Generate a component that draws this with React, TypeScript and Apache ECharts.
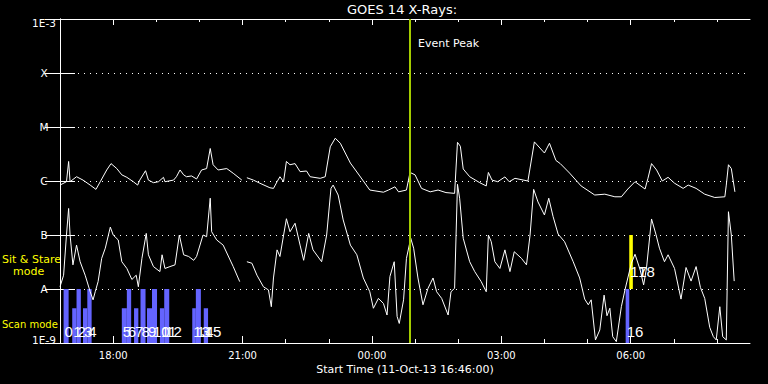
import React, { useEffect, useRef } from "react";
import * as echarts from "echarts";

// ---- axis definitions ----
const START_MIN_OF_DAY = 16 * 60 + 46; // 11-Oct-13 16:46
const SPAN_MIN = 960; // 16 hours shown
const MAJOR_TICKS = [74, 254, 434, 614, 794]; // 18:00, 21:00, 00:00, 03:00, 06:00 (minutes since start)
const MINOR_TICKS = [134, 194, 314, 374, 494, 554, 674, 734, 854, 914];
const Y_LABELS = ["1E-9", "A", "B", "C", "M", "X", "1E-3"];
const EVENT_PEAK = 486; // minutes since start (~00:52)

// ---- long channel (upper curve) [minutes since start, W/m^2] ----
const longFlux: [number, number | string][] = [
  [0, 8.4e-7], [9, 9.7e-7], [12, 2.3e-6], [14, 9.7e-7], [23, 1.2e-6], [32, 1.04e-6], [42, 8.4e-7],
  [50, 7.0e-7], [56, 9.7e-7], [65, 1.6e-6], [71, 2.1e-6], [79, 1.7e-6], [86, 1.3e-6], [93, 1.17e-6],
  [102, 9.7e-7], [108, 8.4e-7], [111, 1.04e-6], [119, 1.55e-6], [123, 1.04e-6], [130, 9.3e-7],
  [137, 9.7e-7], [144, 1.17e-6], [146, 9.7e-7], [158, 1.04e-6], [162, 1.2e-6], [167, 1.6e-6],
  [172, 1.3e-6], [176, 1.2e-6], [183, 1.24e-6], [190, 1.09e-6], [197, 1.6e-6], [204, 1.7e-6],
  [209, 4.0e-6], [213, 2.0e-6], [220, 1.6e-6], [232, 1.7e-6], [241, 1.39e-6], [253, 1.04e-6],
  [256, "-"],
  [260, 1.15e-6], [269, 1.04e-6], [278, 9.1e-7], [292, 7.5e-7], [297, 7.3e-7], [302, 9.7e-7],
  [306, 1.2e-6], [311, 9.7e-7], [315, 2.3e-6], [320, 2.0e-6], [327, 2.1e-6], [334, 1.49e-6],
  [343, 1.53e-6], [348, 1.2e-6], [362, 1.12e-6], [369, 1.2e-6], [376, 4.3e-6], [383, 6.2e-6],
  [390, 5.0e-6], [404, 2.15e-6], [417, 1.24e-6], [431, 6.8e-7], [450, 6.2e-7], [457, 6.8e-7],
  [466, 7.8e-7], [471, 6.3e-7], [482, 6.8e-7], [487, 1.44e-6], [494, 1.3e-6], [503, 7.3e-7],
  [515, 6.3e-7], [526, 6.8e-7], [537, 6.1e-7], [549, 5.9e-7], [553, 5.2e-6], [557, 4.4e-6],
  [561, 1.67e-6], [570, 1.2e-6], [584, 9.3e-7], [593, 8.1e-7], [596, 1.44e-6], [601, 1.04e-6],
  [609, 9.7e-7], [619, 1.19e-6], [625, 9.7e-7], [633, 1.12e-6], [651, 1.0e-6], [660, 5.3e-6],
  [674, 3.3e-6], [681, 5.0e-6], [690, 2.4e-6], [696, 2.1e-6], [709, 1.4e-6], [725, 8.1e-7],
  [744, 5.5e-7], [758, 5.7e-7], [772, 5.1e-7], [781, 5.1e-7], [790, 7.1e-7], [800, 9.7e-7],
  [814, 7.1e-7], [818, 1.12e-6], [823, 2.1e-6], [830, 1.6e-6], [838, 1.0e-6], [846, 1.17e-6],
  [855, 9.1e-7], [867, 7.3e-7], [874, 8.4e-7], [885, 7.3e-7], [897, 5.7e-7], [911, 4.95e-7],
  [925, 5.1e-7], [927, 8.4e-7], [930, 2.0e-6], [934, 1.7e-6], [939, 6.3e-7],
];

// ---- short channel (lower curve) ----
const shortFlux: [number, number | string][] = [
  [0, 1.1e-8], [5, 1.8e-8], [9, 1.0e-7], [12, 3.1e-7], [14, 1.0e-7], [18, 2.8e-8], [23, 6.5e-8],
  [28, 3.2e-8], [35, 1.8e-8], [42, 8.9e-9], [46, 6.3e-9], [49, 8.9e-9], [53, 1.37e-8], [58, 3.7e-8],
  [63, 5.7e-8], [70, 1.4e-7], [74, 1.0e-7], [81, 8.1e-8], [86, 3.2e-8], [93, 2.4e-8], [100, 1.5e-8],
  [106, 1.8e-8], [109, 1.1e-8], [114, 3.7e-8], [120, 1.07e-7], [123, 4.3e-8], [130, 2.6e-8],
  [139, 2.1e-8], [142, 4.3e-8], [146, 2.4e-8], [153, 2.6e-8], [160, 2.8e-8], [166, 1.0e-7],
  [172, 4.3e-8], [179, 4.0e-8], [186, 3.4e-8], [190, 4.0e-8], [199, 1.0e-7], [204, 9.3e-8],
  [209, 4.8e-7], [211, 1.15e-7], [218, 8.1e-8], [227, 6.5e-8], [241, 2.6e-8], [250, 1.37e-8],
  [255, "-"],
  [260, 3.2e-8], [267, 3.0e-8], [274, 1.8e-8], [283, 1.1e-8], [290, 9.6e-9], [294, 4.7e-9],
  [297, 1.6e-8], [302, 5.3e-8], [306, 4.0e-8], [315, 2.0e-7], [320, 1.15e-7], [327, 1.65e-7],
  [334, 6.5e-8], [339, 3.4e-8], [346, 1.07e-7], [352, 5.3e-8], [364, 3.2e-8], [371, 1.0e-7],
  [377, 7.3e-7], [380, 8.4e-7], [387, 5.5e-7], [394, 1.9e-7], [404, 6.5e-8], [413, 4.3e-8],
  [422, 1.6e-8], [431, 8.9e-9], [436, 4.4e-9], [443, 6.7e-9], [450, 5.4e-9], [455, 3.3e-9],
  [459, 1.7e-8], [465, 3.2e-8], [469, 3.1e-9], [472, 2.3e-9], [478, 6.3e-9], [482, 3.7e-8],
  [488, 8.7e-8], [492, 5.7e-8], [498, 1.6e-8], [505, 5.1e-9], [512, 1.03e-8], [519, 1.6e-8],
  [524, 8.9e-9], [531, 6.7e-9], [540, 3.3e-9], [544, 8.9e-9], [549, 1.03e-8], [553, 8.7e-7],
  [556, 4.8e-7], [561, 8.7e-8], [570, 3.2e-8], [577, 2.1e-8], [586, 1.37e-8], [593, 8.9e-9],
  [596, 1.0e-7], [600, 7.5e-8], [605, 3.2e-8], [612, 2.4e-8], [619, 5.3e-8], [626, 2.1e-8],
  [632, 4.9e-8], [642, 3.7e-8], [649, 2.8e-8], [654, 1.0e-7], [659, 7.0e-7], [665, 4.1e-7],
  [674, 2.35e-7], [680, 4.8e-7], [686, 2.2e-7], [693, 1.04e-7], [702, 7.5e-8], [714, 3.2e-8],
  [723, 1.6e-8], [730, 6.5e-9], [735, 5.1e-9], [739, 6.3e-9], [745, 1.14e-9], [751, 1.74e-9],
  [757, 7.7e-9], [761, 3.2e-9], [765, 4.4e-9], [769, 1.31e-9], [774, 1.06e-9], [781, 4.7e-9],
  [786, 9.6e-9], [790, 1.6e-8], [795, 3.0e-8], [800, 4.4e-8], [807, 2.3e-8], [812, 1.19e-8],
  [816, 2.45e-8], [823, 1.98e-7], [829, 1.04e-7], [834, 5.7e-8], [841, 3.2e-8], [846, 4.3e-8],
  [855, 2.4e-8], [864, 6.5e-9], [871, 2.5e-8], [878, 1.4e-8], [885, 2.6e-8], [891, 1.07e-8],
  [897, 6.7e-9], [904, 1.94e-9], [909, 1.31e-9], [913, 1.14e-9], [918, 4.7e-9], [922, 1.31e-9],
  [927, 1.14e-9], [930, 2.7e-7], [934, 1.0e-7], [938, 1.4e-8],
];

// ---- observing modes: [start, end, top] in minutes since start ----
const scanBars: [number, number, number][] = [
  [5, 12, 1e-8], [17, 23, 4.4e-9], [23, 29, 1e-8], [32, 38, 4.4e-9], [38, 44, 1e-8],
  [86, 93, 4.4e-9], [93, 99, 1e-8], [103, 109, 4.4e-9], [112, 119, 1e-8], [121, 128, 4.4e-9],
  [128, 135, 1e-8], [139, 145, 4.4e-9], [145, 152, 1e-8], [184, 189, 4.4e-9], [189, 196, 1e-8],
  [200, 206, 4.4e-9], [787, 792, 1e-8],
];
const stareBars: [number, number, number][] = [
  [792, 797, 1e-7], [803, 803, 1e-7],
];
const SCAN_BASE = 1e-9;
const STARE_BASE = 1e-8;
const SCAN_LABEL_Y = 1.6e-9;
const STARE_LABEL_Y = 2.1e-8;

const pad = (n: number) => (n < 10 ? "0" + n : "" + n);
const clock = (v: number) => {
  const m = Math.round(START_MIN_OF_DAY + v) % 1440;
  return pad(Math.floor(m / 60)) + ":" + pad(m % 60);
};

const FONT = "DejaVu Sans";

function makeRender(fill: string, base: number, labelY: number, firstLabel: number) {
  return (params: any, api: any) => {
    const t0 = api.value(0);
    const t1 = api.value(1);
    const top = api.value(2);
    const a = api.coord([t0, top]);
    const b = api.coord([t1, base]);
    const l = api.coord([t0, labelY]);
    const children: any[] = [];
    if (b[0] - a[0] > 0) {
      children.push({
        type: "rect",
        shape: { x: a[0], y: a[1], width: b[0] - a[0], height: b[1] - a[1] },
        style: { fill },
      });
    }
    children.push({
      type: "text",
      x: l[0] + 1,
      y: l[1],
      z2: 10,
      style: {
        text: String(firstLabel + params.dataIndex),
        fill: "#ffffff",
        fontSize: 15,
        fontFamily: "'Liberation Sans Narrow', 'Liberation Sans', sans-serif",
        align: "left",
        verticalAlign: "middle",
      },
    });
    return { type: "group", children };
  };
}

export default function App() {
  const ref = useRef<HTMLDivElement>(null);
  useEffect(() => {
    document.body.style.margin = "0";
    document.body.style.background = "#000";
    const chart = echarts.init(ref.current!, null, { renderer: "svg" });
    const xBase = {
      type: "value" as const,
      min: 0,
      max: SPAN_MIN,
      splitLine: { show: false },
    };
    const white = "#ffffff";
    chart.setOption({
      animation: false,
      backgroundColor: "#000000",
      textStyle: { fontFamily: FONT },
      grid: { left: 60, right: 18, top: 19, bottom: 41, show: false },
      xAxis: [
        {
          ...xBase,
          position: "bottom",
          axisLine: { show: true, lineStyle: { color: white, width: 1 } },
          axisTick: { show: true, inside: true, length: 7, customValues: MAJOR_TICKS, lineStyle: { color: white } },
          axisLabel: { show: true, customValues: MAJOR_TICKS, formatter: (v: number) => clock(v), color: white, fontSize: 10, fontFamily: FONT, margin: 7 },
        },
        {
          ...xBase,
          position: "bottom",
          axisLine: { show: false },
          axisTick: { show: true, inside: true, length: 4, customValues: MINOR_TICKS, lineStyle: { color: white } },
          axisLabel: { show: false },
        },
        {
          ...xBase,
          position: "top",
          axisLine: { show: true, lineStyle: { color: white, width: 1 } },
          axisTick: { show: true, inside: true, length: 6, customValues: MAJOR_TICKS, lineStyle: { color: white } },
          axisLabel: { show: false },
        },
        {
          ...xBase,
          position: "top",
          axisLine: { show: false },
          axisTick: { show: true, inside: true, length: 3, customValues: MINOR_TICKS, lineStyle: { color: white } },
          axisLabel: { show: false },
        },
      ],
      yAxis: [
        {
          type: "log",
          logBase: 10,
          min: 1e-9,
          max: 1e-3,
          position: "left",
          axisLine: { show: true, lineStyle: { color: white, width: 1 } },
          axisTick: { show: true, inside: true, length: 15, lineStyle: { color: white } },
          splitLine: { show: true, lineStyle: { color: white, width: 1, type: [1, 5] } },
          axisLabel: {
            show: true,
            margin: 16,
            align: "center",
            color: white,
            fontSize: 10.5,
            fontFamily: FONT,
            formatter: (v: number) => {
              const i = Math.round(Math.log10(v)) + 9;
              const s = Y_LABELS[i] ?? "";
              if (i === 6) return "{top|" + s + "}";
              if (i === 0) return "{bot|" + s + "}";
              return s;
            },
            rich: {
              top: { color: white, fontSize: 10.5, fontFamily: FONT, padding: [8, 0, 0, 0] },
              bot: { color: white, fontSize: 10.5, fontFamily: FONT, padding: [0, 0, 6, 0] },
            },
          },
        },
        {
          type: "log",
          logBase: 10,
          min: 1e-9,
          max: 1e-3,
          position: "right",
          axisLine: { show: true, lineStyle: { color: white, width: 1 } },
          axisTick: { show: true, inside: true, length: 15, lineStyle: { color: white } },
          splitLine: { show: false },
          axisLabel: { show: false },
        },
      ],
      series: [
        {
          type: "custom",
          name: "Scan mode",
          xAxisIndex: 0,
          yAxisIndex: 0,
          renderItem: makeRender("#6464ff", SCAN_BASE, SCAN_LABEL_Y, 0),
          encode: { x: [0, 1], y: 2 },
          data: scanBars,
          z: 1,
          silent: true,
        },
        {
          type: "custom",
          name: "Sit & Stare mode",
          xAxisIndex: 0,
          yAxisIndex: 0,
          renderItem: makeRender("#ffff00", STARE_BASE, STARE_LABEL_Y, scanBars.length),
          encode: { x: [0, 1], y: 2 },
          data: stareBars,
          z: 1,
          silent: true,
        },
        {
          type: "line",
          name: "1-8 A",
          xAxisIndex: 0,
          yAxisIndex: 0,
          data: longFlux,
          symbol: "none",
          showSymbol: false,
          connectNulls: false,
          lineStyle: { color: white, width: 1 },
          z: 3,
          silent: true,
        },
        {
          type: "line",
          name: "0.5-4 A",
          xAxisIndex: 0,
          yAxisIndex: 0,
          data: shortFlux,
          symbol: "none",
          showSymbol: false,
          connectNulls: false,
          lineStyle: { color: white, width: 1 },
          z: 3,
          silent: true,
          markLine: {
            silent: true,
            symbol: ["none", "none"],
            label: { show: false },
            lineStyle: { color: "#a4cc00", width: 2, type: "solid" },
            data: [{ xAxis: EVENT_PEAK }],
            z: 5,
          },
        },
      ],
      graphic: [
        { type: "text", x: 402, y: 9.5, style: { text: "GOES 14 X-Rays:", fill: white, fontSize: 13, fontFamily: FONT, align: "center", verticalAlign: "middle" } },
        { type: "text", x: 418, y: 43, style: { text: "Event Peak", fill: white, fontSize: 11, fontFamily: FONT, align: "left", verticalAlign: "middle" } },
        { type: "text", x: 2, y: 259, style: { text: "Sit & Stare", fill: "#ffff00", fontSize: 11, fontFamily: FONT, align: "left", verticalAlign: "middle" } },
        { type: "text", x: 13, y: 271, style: { text: "mode", fill: "#ffff00", fontSize: 11, fontFamily: FONT, align: "left", verticalAlign: "middle" } },
        { type: "text", x: 2, y: 324, style: { text: "Scan mode", fill: "#ffff00", fontSize: 10, fontFamily: FONT, align: "left", verticalAlign: "middle" } },
        { type: "text", x: 405, y: 369, style: { text: "Start Time (11-Oct-13 16:46:00)", fill: white, fontSize: 11, fontFamily: FONT, align: "center", verticalAlign: "middle" } },
      ],
    });
    return () => chart.dispose();
  }, []);
  return <div ref={ref} style={{ width: 768, height: 384, background: "#000" }} />;
}
